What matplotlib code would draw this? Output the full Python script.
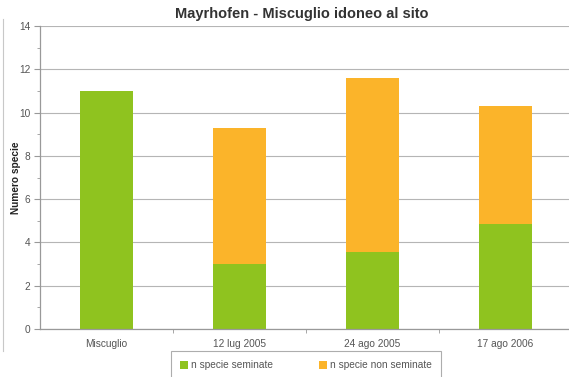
import matplotlib.pyplot as plt
from matplotlib.lines import Line2D
from matplotlib.ticker import MultipleLocator, FixedLocator

categorie = ["Miscuglio", "12 lug 2005", "24 ago 2005", "17 ago 2006"]
seminate = [11.0, 3.0, 3.55, 4.85]
non_seminate = [0.0, 6.3, 8.05, 5.45]

verde = "#8fc31f"
arancio = "#fbb42a"
grigio = "#555555"

plt.rcParams['font.family'] = ['Liberation Sans', 'DejaVu Sans']

fig = plt.figure(figsize=(5.69, 3.77), dpi=100)
ax = fig.add_axes([0.0703, 0.1273, 0.935, 0.8037])

x = range(len(categorie))
b1 = ax.bar(x, seminate, width=0.4, color=verde, label="n specie seminate", zorder=2)
b2 = ax.bar(x, non_seminate, width=0.4, bottom=seminate, color=arancio,
            label="n specie non seminate", zorder=2)

ax.set_xlim(-0.5, 3.5)
ax.set_ylim(0, 14)
ax.yaxis.set_major_locator(MultipleLocator(2))
ax.yaxis.set_minor_locator(MultipleLocator(1))
ax.set_xticks(list(x))
ax.set_xticklabels(categorie)
ax.xaxis.set_minor_locator(FixedLocator([0.5, 1.5, 2.5]))
ax.tick_params(axis='x', which='major', length=0, labelsize=7.3, colors=grigio, pad=7)
ax.tick_params(axis='x', which='minor', length=3, color='#999999')
ax.tick_params(axis='y', which='major', length=4, labelsize=7.3, colors=grigio,
               color='#999999', pad=3)
ax.tick_params(axis='y', which='minor', length=2, color='#999999')

ax.grid(axis='y', color='#b5b5b5', linewidth=0.8, zorder=0)
for s in ['top', 'right']:
    ax.spines[s].set_visible(False)
for s in ['left', 'bottom']:
    ax.spines[s].set_color('#999999')
    ax.spines[s].set_linewidth(0.9)

ax.set_ylabel("Numero specie", fontsize=7.3, fontweight='bold', color='#222222')
ax.yaxis.set_label_coords(-0.035, 0.5)
fig.text(0.53, 0.962, "Mayrhofen - Miscuglio idoneo al sito", ha='center', va='center',
         fontsize=10.5, fontweight='bold', color='#333333')

# bordo sinistro della cornice del grafico
fig.add_artist(Line2D([0.006, 0.006], [0.07, 0.95], transform=fig.transFigure,
                      color='#c8c8c8', linewidth=0.8))

leg = fig.legend(handles=[b1, b2], loc='lower left', bbox_to_anchor=(0.292, -0.02),
                 ncol=2, fontsize=7.3, frameon=True, fancybox=False,
                 handlelength=0.8, handleheight=0.8, columnspacing=4.5,
                 borderpad=0.9, handletextpad=0.3)
leg.get_frame().set_edgecolor('#999999')
leg.get_frame().set_linewidth(0.8)
for t in leg.get_texts():
    t.set_color(grigio)

fig.savefig("out.png", dpi=100)
